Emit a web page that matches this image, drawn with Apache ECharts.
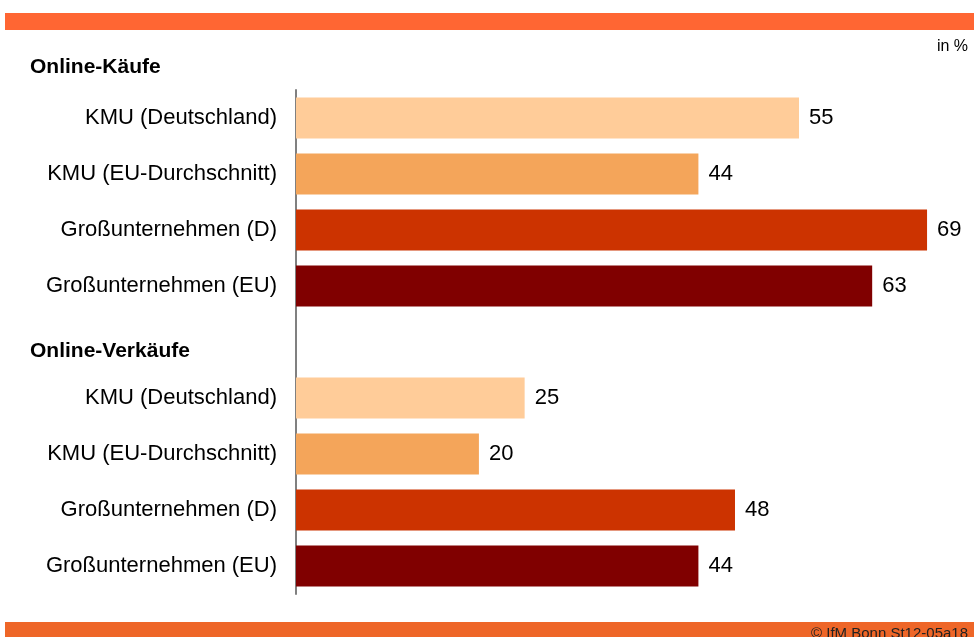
<!DOCTYPE html>
<html><head><meta charset="utf-8">
<script src="https://cdn.jsdelivr.net/npm/echarts@6/dist/echarts.min.js"></script>
<style>html,body{margin:0;padding:0;background:#fff}#c{width:974px;height:637px}</style>
</head><body><div id="c"></div>
<script>
const categories = ["KMU (Deutschland)","KMU (EU-Durchschnitt)","Großunternehmen (D)","Großunternehmen (EU)","", "KMU (Deutschland) ","KMU (EU-Durchschnitt) ","Großunternehmen (D) ","Großunternehmen (EU) "];
const groupHeaders = ["Online-Käufe","Online-Verkäufe"];
const kaeufe = [55,44,69,63];
const verkaeufe = [25,20,48,44];
const barColors = ["#FFCC99","#F4A55A","#CC3300","#800000"];

const values = kaeufe.concat([null], verkaeufe);
const colorsAll = barColors.concat([null], barColors);
const data = values.map((v,i)=> v===null ? '-' : ({value:v, itemStyle:{color:colorsAll[i]}}));

const chart = echarts.init(document.getElementById('c'), null, {renderer:'canvas'});
chart.setOption({
  animation:false,
  backgroundColor:'#fff',
  grid:{left:296, top:90, width:640.2, height:504, containLabel:false},
  xAxis:{type:'value', min:0, max:70, show:false},
  yAxis:{type:'category', data:categories, inverse:true,
    axisLine:{show:true, lineStyle:{color:'#808080', width:2}},
    axisTick:{show:false},
    axisLabel:{fontFamily:'Liberation Sans, Arial', fontSize:22, color:'#000', margin:19,
      formatter:v=>v.trim()}
  },
  series:[{type:'bar', data:data, barCategoryGap:'27%',
    label:{show:true, position:'right', distance:10, fontFamily:'Liberation Sans, Arial', fontSize:22, color:'#000'}
  }],
  graphic:[
    {type:'rect', shape:{x:5,y:13,width:969,height:17}, style:{fill:'#FF6633'}},
    {type:'rect', shape:{x:5,y:622,width:969,height:15}, style:{fill:'#EE6628'}},
    {type:'text', x:30, y:67, style:{text:groupHeaders[0], font:'bold 21px Liberation Sans, Arial', fill:'#000', textVerticalAlign:'middle'}},
    {type:'text', x:30, y:351, style:{text:groupHeaders[1], font:'bold 21px Liberation Sans, Arial', fill:'#000', textVerticalAlign:'middle'}},
    {type:'text', x:968, y:47, style:{text:'in %', font:'16px Liberation Sans, Arial', fill:'#000', textAlign:'right', textVerticalAlign:'middle'}},
    {type:'text', x:968, y:634, style:{text:'© IfM Bonn St12-05a18', font:'15px Liberation Sans Narrow, Liberation Sans, Arial', fill:'#222', textAlign:'right', textVerticalAlign:'middle'}}
  ]
});
</script></body></html>
